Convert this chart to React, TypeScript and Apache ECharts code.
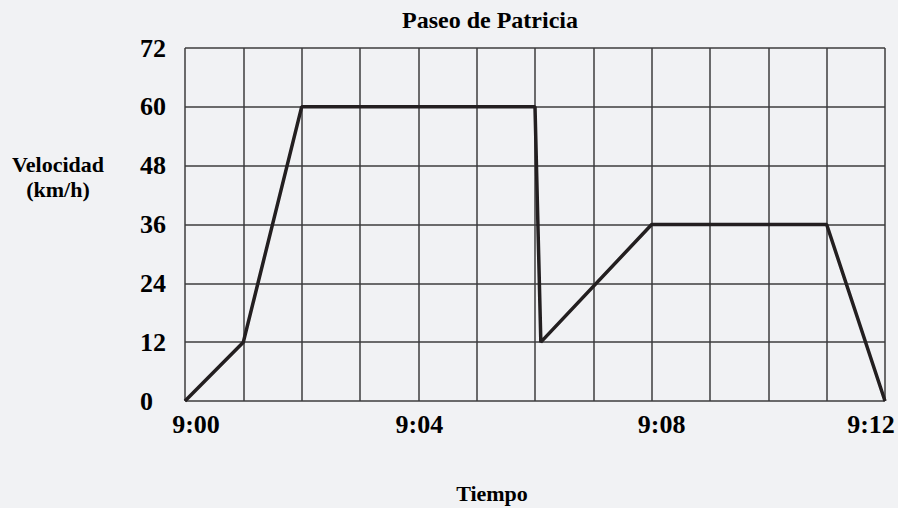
import React, { useEffect, useRef } from "react";
import * as echarts from "echarts";

const minutes = [0, 1, 2, 6, 6.1, 8, 11, 12];
const speeds = [0, 12, 60, 60, 12, 36, 36, 0];
const xTickLabels: Record<number, string> = { 0: "9:00", 4: "9:04", 8: "9:08", 12: "9:12" };
const yTicks = [0, 12, 24, 36, 48, 60, 72];

const FONT = '"Liberation Serif", "Times New Roman", serif';

const labelBase = { color: "#000", fontFamily: FONT, fontWeight: "bold", fontSize: 26 };

export default function App() {
  const ref = useRef<HTMLDivElement>(null);
  useEffect(() => {
    if (!ref.current) return;
    document.body.style.margin = "0";
    document.body.style.overflow = "hidden";
    const chart = echarts.init(ref.current, undefined, { renderer: "svg", width: 898, height: 508 });
    chart.setOption({
      animation: false,
      backgroundColor: "#f1f2f4",
      grid: { left: 185, right: 13, top: 48, bottom: 107, containLabel: false },
      xAxis: {
        type: "value",
        min: 0,
        max: 12,
        interval: 1,
        axisLine: { show: false },
        axisTick: { show: false },
        splitLine: { show: true, lineStyle: { color: "#3c3c3e", width: 1.5 } },
        axisLabel: {
          formatter: (v: number) => {
            const t = xTickLabels[v];
            if (!t) return "";
            return `{l${v}|${t}}`;
          },
          ...labelBase,
          margin: 10,
          showMinLabel: true,
          showMaxLabel: true,
          rich: {
            l0: { ...labelBase, padding: [0, 0, 0, 22] },
            l4: { ...labelBase, padding: [0, 0, 0, 2] },
            l8: { ...labelBase, padding: [0, 0, 0, 20] },
            l12: { ...labelBase, padding: [0, 28, 0, 0] },
          },
        },
      },
      yAxis: {
        type: "value",
        min: yTicks[0],
        max: yTicks[yTicks.length - 1],
        interval: 12,
        axisLine: { show: false },
        axisTick: { show: false },
        splitLine: { show: true, lineStyle: { color: "#3c3c3e", width: 1.5 } },
        axisLabel: {
          ...labelBase,
          margin: 45,
          align: "left",
          verticalAlign: "middle",
        },
      },
      graphic: [
        {
          type: "text",
          x: 490,
          y: 8,
          style: { text: "Paseo de Patricia", font: `bold 24px ${FONT}`, fill: "#000", align: "center" },
        },
        {
          type: "text",
          x: 492,
          y: 482,
          style: { text: "Tiempo", font: `bold 22px ${FONT}`, fill: "#000", align: "center" },
        },
        {
          type: "text",
          x: 58,
          y: 152,
          style: {
            text: "Velocidad\n(km/h)",
            font: `bold 22px ${FONT}`,
            fill: "#000",
            align: "center",
            lineHeight: 25,
          },
        },
      ],
      series: [
        {
          type: "line",
          data: minutes.map((m, i) => [m, speeds[i]]),
          symbol: "none",
          lineStyle: { color: "#231f20", width: 3.5 },
        },
      ],
    });
    return () => chart.dispose();
  }, []);
  return <div ref={ref} style={{ width: 898, height: 508, position: "fixed", left: 0, top: 0 }} />;
}
